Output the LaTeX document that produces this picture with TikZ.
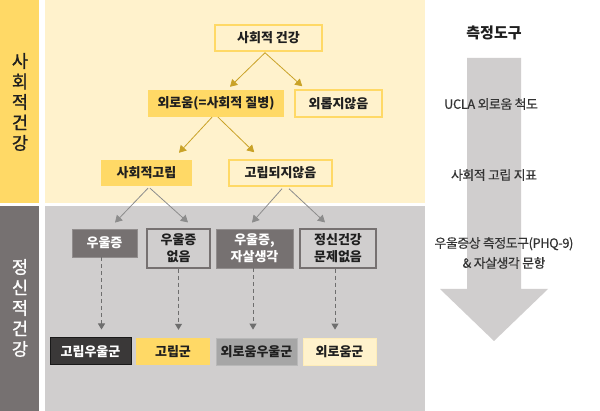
\documentclass[tikz,border=0pt]{standalone}
\usepackage{fontspec}
\setmainfont{Noto Sans CJK KR}
\newfontfamily\stripfont{Noto Sans CJK KR}[FakeBold=1.2]
\newfontfamily\sidefont{Noto Sans CJK KR}[FakeBold=0.4, LetterSpace=-3]
\usetikzlibrary{arrows.meta,calc}
\definecolor{ystrip}{HTML}{FFD966}
\definecolor{ypanel}{HTML}{FFF2CC}
\definecolor{gstrip}{HTML}{767171}
\definecolor{gpanel}{HTML}{D0CECE}
\definecolor{goldline}{HTML}{C9A227}
\definecolor{grayline}{HTML}{8C8C8C}
\definecolor{dashline}{HTML}{6E6E6E}
\definecolor{darkfill}{HTML}{3A3838}
\definecolor{midfill}{HTML}{A6A6A6}
\definecolor{txt}{HTML}{1F1F1F}
\definecolor{sidetxt}{HTML}{333333}
\tikzset{
  box/.style={minimum height=26pt, inner sep=0pt, align=center,
    font=\bfseries\fontsize{13}{17}\selectfont, text=txt},
  ybord/.style={box, draw=ystrip, line width=1.5pt, fill=ypanel},
  yfill/.style={box, fill=ystrip},
  gdark/.style={box, fill=gstrip, draw=gstrip!80!white, line width=0.8pt, text=white},
  gbord/.style={box, draw=gstrip, line width=1.2pt, fill=gpanel},
  goldarr/.style={draw=goldline, line width=0.8pt, -{Triangle[length=7pt,width=8pt]}},
  grayarr/.style={draw=grayline, line width=0.8pt, -{Triangle[length=7pt,width=8pt]}},
  dasharr/.style={draw=dashline, line width=1pt, dash pattern=on 4pt off 3pt, -{Triangle[length=6pt,width=7pt]}},
  striptext/.style={align=center, font=\stripfont\fontsize{17.5}{20.5}\selectfont},
  sidetext/.style={align=center, text=sidetxt, font=\sidefont\fontsize{12.8}{20}\selectfont}
}
\begin{document}
\begin{tikzpicture}[x=1pt,y=-1pt]
\useasboundingbox (0,0) rectangle (600,411);
\fill[white] (0,0) rectangle (600,411);
% panels
\fill[ystrip] (0,0) rectangle (39,203);
\fill[ypanel] (45,0) rectangle (425,203);
\fill[gstrip] (0,206) rectangle (39,411);
\fill[gpanel] (45,206) rectangle (425,411);
% strip labels
\node[striptext, text=txt] (lab1) at (20,102) {사\\회\\적\\건\\강};
\node[striptext, text=white] (lab2) at (20,308) {정\\신\\적\\건\\강};
% big arrow
\fill[gpanel] (467,58) -- (521,58) -- (521,289) -- (548,289) -- (494,341) -- (440,289) -- (467,289) -- cycle;
\node[font=\bfseries\fontsize{15}{16}\selectfont, text=txt] (tool) at (494,33) {측정도구};
\node[sidetext] (s1) at (491,104) {UCLA 외로움 척도};
\node[sidetext] (s2) at (494,175) {사회적 고립 지표};
\node[sidetext] (s3) at (504,253) {우울증상 측정도구(PHQ-9)\\\& 자살생각 문항};
% top nodes
\node[ybord, minimum width=107pt] (n1) at (268.5,38) {사회적 건강};
\node[yfill, minimum width=136pt, minimum height=27pt] (n2) at (216,103.5) {외로움(=사회적 질병)};
\node[ybord, minimum width=87pt, minimum height=27pt] (n3) at (338.5,103.5) {외롭지않음};
\node[yfill, minimum width=91pt] (n4) at (146.5,173) {사회적고립};
\node[ybord, minimum width=103pt] (n5) at (280.5,173) {고립되지않음};
% middle nodes
\node[gdark, minimum width=65pt, minimum height=28pt] (m1) at (104.5,243) {우울증};
\node[gbord, minimum width=63pt, minimum height=39pt] (m2) at (178.5,248.5) {우울증\\없음};
\node[gdark, minimum width=77pt, minimum height=39pt] (m3) at (254.5,248.5) {우울증,\\자살생각};
\node[gbord, minimum width=76pt, minimum height=39pt] (m4) at (338,248.5) {정신건강\\문제없음};
% final nodes
\node[box, fill=darkfill, draw=black!90, line width=1pt, text=white, minimum width=81pt, minimum height=27pt] (f1) at (90.5,351.5) {고립우울군};
\node[yfill, minimum width=74pt, minimum height=27pt] (f2) at (173,351.5) {고립군};
\node[box, fill=midfill, draw=midfill!80!white, line width=0.8pt, minimum width=81pt, minimum height=27pt] (f3) at (256.5,351.5) {외로움우울군};
\node[box, fill=ypanel, draw=ypanel!80!ystrip, line width=0.8pt, minimum width=73pt, minimum height=27pt] (f4) at (339.5,351.5) {외로움군};
% gold arrows
\draw[goldarr] ([xshift=-3.5pt,yshift=-1pt]n1.south) -- ([xshift=14pt,yshift=3pt]n2.north);
\draw[goldarr] ([xshift=-3.5pt,yshift=-1pt]n1.south) -- ([xshift=8pt,yshift=3pt]n3.north west);
\draw[goldarr] ([xshift=-4pt]n2.south) -- ([xshift=32.5pt,yshift=7pt]n4.north);
\draw[goldarr] ([xshift=2pt]n2.south) -- ([xshift=26pt,yshift=7pt]n5.north west);
% gray arrows
\draw[grayarr] ([xshift=1.5pt,yshift=-2pt]n4.south) -- ([xshift=10.5pt,yshift=6pt]m1.north);
\draw[grayarr] ([xshift=3.5pt,yshift=-2pt]n4.south) -- ([xshift=9.5pt,yshift=6pt]m2.north);
\draw[grayarr] ([xshift=1.5pt,yshift=-2pt]n5.south) -- ([xshift=-2.5pt,yshift=6pt]m3.north);
\draw[grayarr] ([xshift=8.5pt,yshift=-2pt]n5.south) -- ([xshift=-13pt,yshift=6pt]m4.north);
% dashed arrows
\draw[dasharr, shorten >=8pt] ([xshift=-3pt]m1.south) -- ([xshift=-3pt]m1.south |- f1.north);
\draw[dasharr, shorten >=8pt] (m2.south) -- (m2.south |- f2.north);
\draw[dasharr, shorten >=8pt] ([xshift=-1.5pt]m3.south) -- ([xshift=-1.5pt]m3.south |- f3.north);
\draw[dasharr, shorten >=8pt] ([xshift=-3pt]m4.south) -- ([xshift=-3pt]m4.south |- f4.north);
\end{tikzpicture}
\end{document}
